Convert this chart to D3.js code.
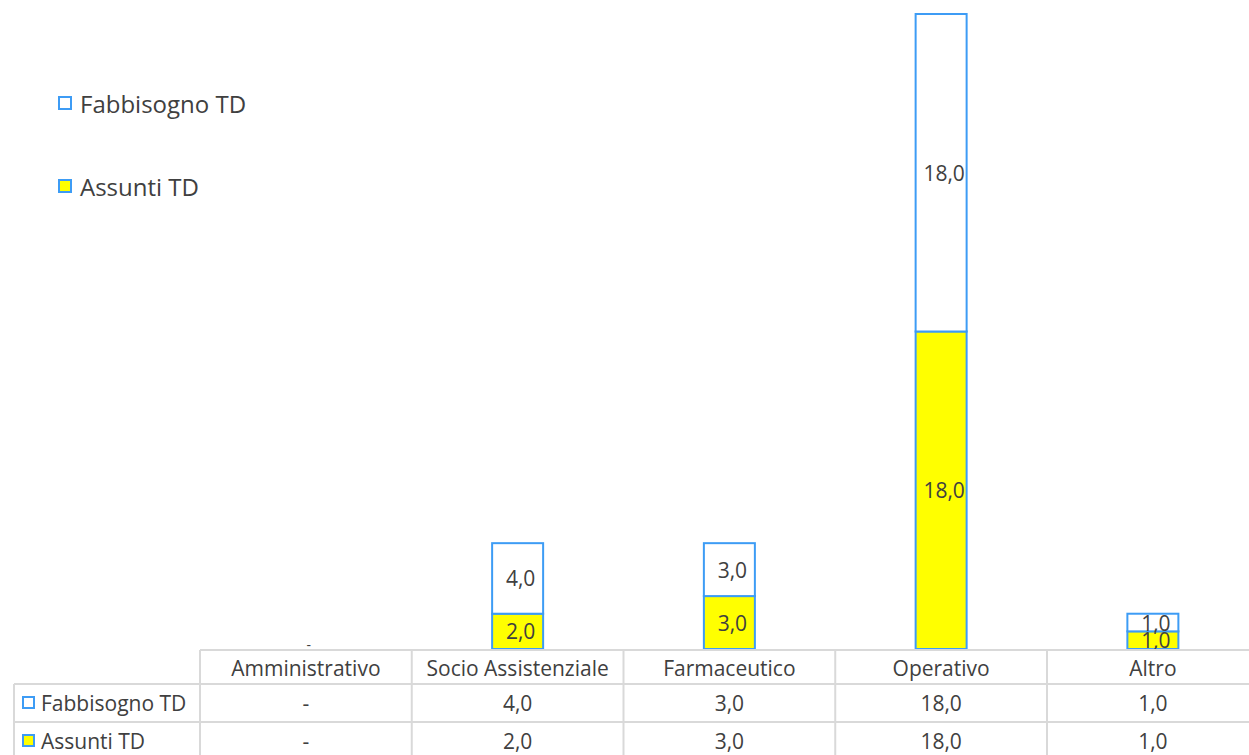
<!DOCTYPE html>
<html>
<head>
<meta charset="utf-8">
<script src="https://cdn.jsdelivr.net/npm/d3@7"></script>
<style>
  body { margin: 0; background: #fff; }
  svg { display: block; }
  text { font-family: "Open Sans", "Noto Sans", sans-serif; fill: #404040; }
</style>
</head>
<body>
<div id="chart"></div>
<script>
// Dati del grafico
const categories = ["Amministrativo", "Socio Assistenziale", "Farmaceutico", "Operativo", "Altro"];
const assunti = [0, 2, 3, 18, 1];
const fabbisogno = [0, 4, 3, 18, 1];
const seriesNames = ["Fabbisogno TD", "Assunti TD"];
const yMax = 36;

const w = 1249, h = 755;
const baseY = 649;       // linea di base delle barre
const tableLeft = 200;
const colW = 211.75;
const rowLabelLeft = 14;
const rows = [650, 684, 722, 760]; // bordi orizzontali della tabella

const fmt = v => v === 0 ? "-" : v.toFixed(1).replace(".", ",");

const svg = d3.select("#chart").append("svg")
  .attr("width", w).attr("height", h);

const x = d3.scaleBand()
  .domain(categories)
  .range([tableLeft, tableLeft + colW * categories.length]);

const y = d3.scaleLinear()
  .domain([0, yMax])
  .range([baseY, 14]);

const barW = 51;
const blue = "#3d9cf5";

// Costruisci le pile
const data = categories.map((c, i) => ({ cat: c, a: assunti[i], f: fabbisogno[i] }));

const g = svg.append("g");

// Segmento Assunti (in basso)
g.selectAll(".bar-a").data(data.filter(d => d.a > 0)).enter()
  .append("rect")
  .attr("x", d => x(d.cat) + x.bandwidth() / 2 - barW / 2)
  .attr("y", d => y(d.a))
  .attr("width", barW)
  .attr("height", d => y(0) - y(d.a))
  .attr("fill", "#ffff00")
  .attr("stroke", blue)
  .attr("stroke-width", 2);

// Segmento Fabbisogno (sopra)
g.selectAll(".bar-f").data(data.filter(d => d.f > 0)).enter()
  .append("rect")
  .attr("x", d => x(d.cat) + x.bandwidth() / 2 - barW / 2)
  .attr("y", d => y(d.a + d.f))
  .attr("width", barW)
  .attr("height", d => y(d.a) - y(d.a + d.f))
  .attr("fill", "#ffffff")
  .attr("stroke", blue)
  .attr("stroke-width", 2);

// Etichette dati
data.forEach(d => {
  const cx = x(d.cat) + x.bandwidth() / 2 + 3;
  if (d.a > 0) {
    g.append("text")
      .attr("x", cx).attr("y", (y(0) + y(d.a)) / 2)
      .attr("text-anchor", "middle").attr("dominant-baseline", "central")
      .style("font-size", "21px").text(fmt(d.a));
  }
  if (d.f > 0) {
    g.append("text")
      .attr("x", cx).attr("y", (y(d.a) + y(d.a + d.f)) / 2)
      .attr("text-anchor", "middle").attr("dominant-baseline", "central")
      .style("font-size", "21px").text(fmt(d.f));
  }
  if (d.a === 0 && d.f === 0) {
    g.append("text")
      .attr("x", cx).attr("y", baseY - 5)
      .attr("text-anchor", "middle").attr("dominant-baseline", "central")
      .style("font-size", "14px").text("-");
  }
});

// Legenda
const legend = [
  { name: seriesNames[0], fill: "#ffffff", y: 103 },
  { name: seriesNames[1], fill: "#ffff00", y: 186 }
];
legend.forEach(l => {
  svg.append("rect")
    .attr("x", 59).attr("y", l.y - 6).attr("width", 12).attr("height", 12)
    .attr("fill", l.fill).attr("stroke", blue).attr("stroke-width", 2);
  svg.append("text")
    .attr("x", 80).attr("y", l.y).attr("dominant-baseline", "central")
    .style("font-size", "24px").text(l.name);
});

// Tabella dati
const grid = svg.append("g").attr("stroke", "#d9d9d9").attr("stroke-width", 2);
const tableRight = tableLeft + colW * categories.length;
grid.append("line").attr("x1", tableLeft).attr("x2", tableRight).attr("y1", rows[0]).attr("y2", rows[0]);
rows.slice(1).forEach(r => {
  grid.append("line").attr("x1", rowLabelLeft).attr("x2", tableRight).attr("y1", r).attr("y2", r);
});
grid.append("line").attr("x1", rowLabelLeft).attr("x2", rowLabelLeft).attr("y1", rows[1]).attr("y2", rows[3]);
categories.forEach(c => {
  const xx = x(c);
  grid.append("line").attr("x1", xx).attr("x2", xx)
    .attr("y1", rows[0]).attr("y2", rows[3]);
});

// Intestazioni categorie
categories.forEach(c => {
  svg.append("text")
    .attr("x", x(c) + x.bandwidth() / 2).attr("y", (rows[0] + rows[1]) / 2 + 1)
    .attr("text-anchor", "middle").attr("dominant-baseline", "central")
    .style("font-size", "21px").text(c);
});

// Righe dei valori
const tableRows = [
  { name: seriesNames[0], vals: fabbisogno, fill: "#ffffff" },
  { name: seriesNames[1], vals: assunti, fill: "#ffff00" }
];
tableRows.forEach((r, ri) => {
  const cy = (rows[ri + 1] + rows[ri + 2]) / 2;
  svg.append("rect")
    .attr("x", 23).attr("y", cy - 6).attr("width", 11).attr("height", 11)
    .attr("fill", r.fill).attr("stroke", blue).attr("stroke-width", 2);
  svg.append("text")
    .attr("x", 41).attr("y", cy).attr("dominant-baseline", "central")
    .style("font-size", "21px").text(r.name);
  r.vals.forEach((v, i) => {
    svg.append("text")
      .attr("x", x(categories[i]) + x.bandwidth() / 2).attr("y", cy)
      .attr("text-anchor", "middle").attr("dominant-baseline", "central")
      .style("font-size", "21px").text(fmt(v));
  });
});
</script>
</body>
</html>
